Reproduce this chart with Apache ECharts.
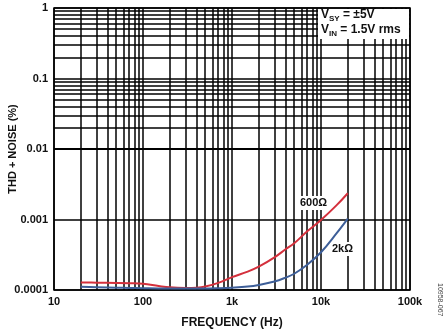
<!DOCTYPE html>
<html>
<head>
<meta charset="utf-8">
<script src="https://cdn.jsdelivr.net/npm/echarts@6/dist/echarts.min.js"></script>
<style>
  html, body { margin: 0; padding: 0; background: #fff; }
  #chart { width: 446px; height: 332px; }
</style>
</head>
<body>
<div id="chart"></div>
<script>
// THD + noise vs. frequency for two load resistances
const freqHz = [20, 30, 50, 70, 100, 150, 200, 300, 400, 500, 700, 1000, 1500, 2000, 3000, 4000, 5000, 7000, 10000, 15000, 20000];
const thd600 = [0.000128, 0.000127, 0.000126, 0.000125, 0.000123, 0.000114, 0.000109, 0.000107, 0.000108, 0.000112, 0.000126, 0.000152, 0.000182, 0.000214, 0.000290, 0.000378, 0.000460, 0.000680, 0.000984, 0.00160, 0.00236];
const thd2k = [0.000111, 0.000109, 0.000108, 0.000107, 0.000106, 0.000105, 0.000105, 0.000105, 0.000105, 0.000105, 0.000106, 0.000108, 0.000112, 0.000118, 0.000132, 0.000150, 0.000170, 0.000228, 0.000343, 0.00064, 0.00103];

const xTickValues = [10, 100, 1000, 10000, 100000];
const xTickLabels = ['10', '100', '1k', '10k', '100k'];
const yTickValues = [0.0001, 0.001, 0.01, 0.1, 1];
const yTickLabels = ['0.0001', '0.001', '0.01', '0.1', '1'];

const FONT = '"Liberation Sans", Arial, sans-serif';

// minor grid positions: 2..9 within each decade
function minorValues(decades) {
  const out = [];
  decades.forEach(d => { for (let m = 2; m <= 9; m++) out.push(+(m * d).toPrecision(3)); });
  return out;
}
const xMinor = minorValues([10, 100, 1000, 10000]);
const yMinor = minorValues([0.0001, 0.001, 0.01, 0.1]);

const gridLine = { color: '#000', width: 1.5, type: 'solid' };

function tickLabel(values, labels) {
  return v => {
    const i = values.findIndex(t => Math.abs(Math.log10(t) - Math.log10(v)) < 1e-6);
    return i >= 0 ? labels[i] : '';
  };
}

const chart = echarts.init(document.getElementById('chart'), null, { renderer: 'canvas' });
chart.setOption({
  animation: false,
  grid: {
    left: 54, right: 36, top: 8, bottom: 42,
    containLabel: false, outerBoundsMode: 'none',
    show: true, borderColor: '#000', borderWidth: 1.5, backgroundColor: 'transparent'
  },
  xAxis: {
    type: 'log', logBase: 10, min: 10, max: 100000,
    name: 'FREQUENCY (Hz)', nameLocation: 'middle', nameGap: 27, nameMoveOverlap: false,
    nameTextStyle: { fontFamily: FONT, fontSize: 12, fontWeight: 'bold', color: '#111' },
    axisLine: { show: false }, axisTick: { show: false },
    splitLine: { show: true, lineStyle: gridLine },
    axisLabel: { fontFamily: FONT, fontSize: 11, fontWeight: 'bold', color: '#111', margin: 6, formatter: tickLabel(xTickValues, xTickLabels) }
  },
  yAxis: {
    type: 'log', logBase: 10, min: 0.0001, max: 1,
    name: 'THD + NOISE (%)', nameLocation: 'middle', nameGap: 36, nameMoveOverlap: false,
    nameTextStyle: { fontFamily: FONT, fontSize: 11, fontWeight: 'bold', color: '#111' },
    axisLine: { show: false }, axisTick: { show: false },
    splitLine: { show: true, lineStyle: gridLine },
    axisLabel: { fontFamily: FONT, fontSize: 11, fontWeight: 'bold', color: '#111', margin: 6, formatter: tickLabel(yTickValues, yTickLabels) }
  },
  series: [
    {
      // minor grid lines, drawn through the axes
      type: 'line', data: [], silent: true, z: 1,
      markLine: {
        silent: true, symbol: 'none', label: { show: false }, lineStyle: gridLine, animation: false,
        data: xMinor.map(v => ({ xAxis: v })).concat(yMinor.map(v => ({ yAxis: v })))
      }
    },
    {
      name: '600Ω', type: 'line', smooth: 0.4, showSymbol: false, z: 5,
      lineStyle: { color: '#d4303c', width: 2 },
      data: freqHz.map((f, i) => [f, thd600[i]])
    },
    {
      name: '2kΩ', type: 'line', smooth: 0.4, showSymbol: false, z: 5,
      lineStyle: { color: '#3d5e98', width: 2 },
      data: freqHz.map((f, i) => [f, thd2k[i]])
    }
  ],
  graphic: [
    { type: 'rect', shape: { x: 318, y: 9, width: 91, height: 30 }, style: { fill: '#fff' }, z: 100 },
    {
      type: 'text', left: 321, top: 9, z: 101,
      style: {
        text: '{m|V}{s|SY}{m| = ±5V}\n{m|V}{s|IN}{m| = 1.5V rms}',
        rich: {
          m: { fontFamily: FONT, fontSize: 12, fontWeight: 'bold', fill: '#111', lineHeight: 15 },
          s: { fontFamily: FONT, fontSize: 8, fontWeight: 'bold', fill: '#111', lineHeight: 15, verticalAlign: 'bottom', padding: [5, 0, 0, 0] }
        }
      }
    },
    { type: 'rect', shape: { x: 299, y: 196, width: 30, height: 14 }, style: { fill: '#fff' }, z: 100 },
    { type: 'text', left: 300, top: 197, z: 101, style: { text: '600Ω', fontFamily: FONT, fontSize: 11, fontWeight: 'bold', fill: '#111' } },
    { type: 'rect', shape: { x: 331, y: 242, width: 24, height: 14 }, style: { fill: '#fff' }, z: 100 },
    { type: 'text', left: 332, top: 243, z: 101, style: { text: '2kΩ', fontFamily: FONT, fontSize: 11, fontWeight: 'bold', fill: '#111' } },
    { type: 'text', x: 443, y: 283, rotation: -Math.PI / 2, z: 101, style: { text: '10958-067', fontFamily: FONT, fontSize: 7, fill: '#444' } }
  ]
});
</script>
</body>
</html>
